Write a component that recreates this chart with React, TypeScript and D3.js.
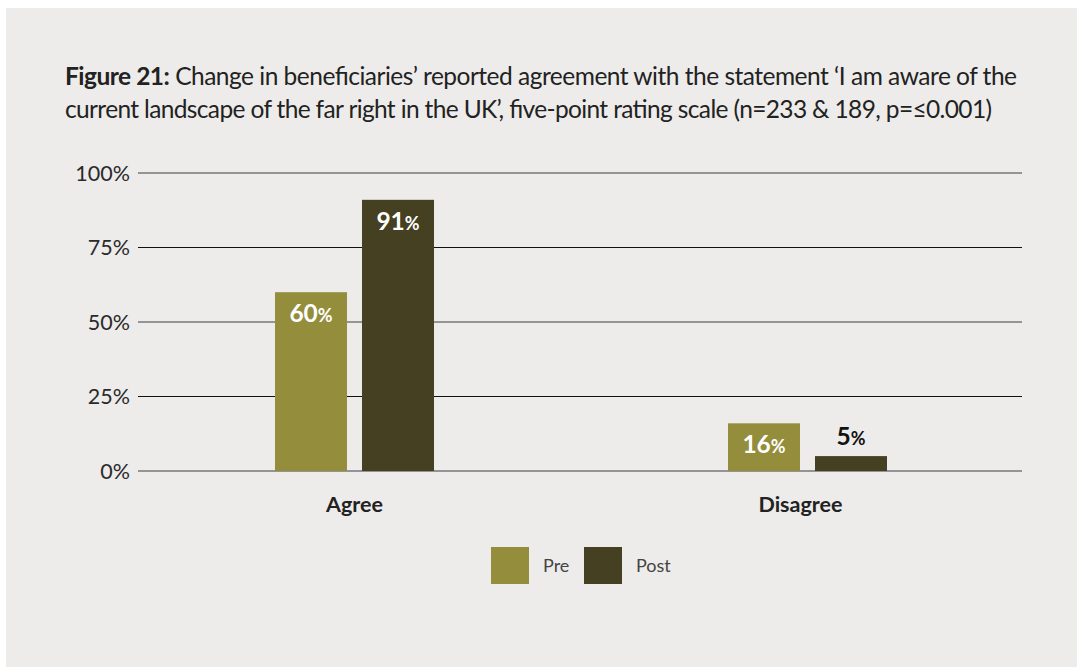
import * as d3 from 'd3'

const W = 1077
const H = 667

const categories = ['Agree', 'Disagree']
const seriesNames = ['Pre', 'Post']
const preValues = [60, 16]
const postValues = [91, 5]
const yTicks = [0, 25, 50, 75, 100]

const COLORS: Record<string, string> = { Pre: '#938d3c', Post: '#454021' }
const FONT = 'Lato, "Open Sans", sans-serif'

const GRID_LEFT = 138
const GRID_RIGHT = 1022
const Y_TOP = 173
const Y_BOTTOM = 471

export default function App() {
  const y = d3.scaleLinear().domain([0, 100]).range([Y_BOTTOM, Y_TOP])
  const x0 = d3.scaleBand<string>().domain(categories).range([128, 1034]).padding(0)
  const x1 = d3
    .scaleBand<string>()
    .domain(seriesNames)
    .range([x0.bandwidth() / 2 - 79.5, x0.bandwidth() / 2 + 79.5])
    .paddingInner(15 / 87)

  const rows = categories.map((c, i) => ({ cat: c, Pre: preValues[i], Post: postValues[i] }))

  return (
    <svg width={W} height={H} style={{ position: 'absolute', left: 0, top: 0, fontFamily: FONT }}>
      <rect x={6} y={8} width={W - 6} height={H - 8} fill="#edecea" />

      {/* title */}
      <text x={65} y={85} fontSize={24.5} fill="#222" textLength={952} lengthAdjust="spacing">
        <tspan fontWeight={700}>Figure 21:</tspan>
        <tspan> Change in beneficiaries’ reported agreement with the statement ‘I am aware of the</tspan>
      </text>
      <text x={65} y={118} fontSize={24.5} fill="#222" textLength={927} lengthAdjust="spacing">
        current landscape of the far right in the UK’, five-point rating scale (n=233 &amp; 189, p=≤0.001)
      </text>

      {/* gridlines */}
      {yTicks.map(t => (
        <g key={t}>
          <line
            x1={GRID_LEFT}
            x2={GRID_RIGHT}
            y1={y(t)}
            y2={y(t)}
            stroke={t % 50 === 0 ? '#777' : '#111'}
            strokeWidth={t % 50 === 0 ? 1.5 : 1}
          />
          <text x={130} y={y(t)} dy="0.36em" textAnchor="end" fontSize={21.5} fill="#2a2a2a">
            {t}%
          </text>
        </g>
      ))}

      {/* bars */}
      {rows.map(r => (
        <g key={r.cat} transform={`translate(${x0(r.cat)},0)`}>
          {seriesNames.map(s => {
            const v = (r as any)[s] as number
            const bx = x1(s)!
            const bw = x1.bandwidth()
            const inside = y(0) - y(v) > 30
            return (
              <g key={s}>
                <rect x={bx} y={y(v)} width={bw} height={y(0) - y(v)} fill={COLORS[s]} />
                <text
                  x={bx + bw / 2}
                  y={inside ? y(v) + 30 : y(v) - 11}
                  textAnchor="middle"
                  fontSize={24.5}
                  fontWeight={700}
                  fill={inside ? '#fff' : '#111'}
                >
                  {v}
                  <tspan fontSize={18}>%</tspan>
                </text>
              </g>
            )
          })}
          <text
            x={x0.bandwidth() / 2 + (r.cat === 'Disagree' ? -7 : 0)}
            y={512}
            textAnchor="middle"
            fontSize={21.5}
            fontWeight={700}
            fill="#222"
          >
            {r.cat}
          </text>
        </g>
      ))}

      {/* legend */}
      {seriesNames.map((s, i) => {
        const lx = 491 + i * 93
        return (
          <g key={s}>
            <rect x={lx} y={547} width={38} height={37} fill={COLORS[s]} />
            <text x={lx + 52} y={572} fontSize={18} fill="#444">
              {s}
            </text>
          </g>
        )
      })}
    </svg>
  )
}
